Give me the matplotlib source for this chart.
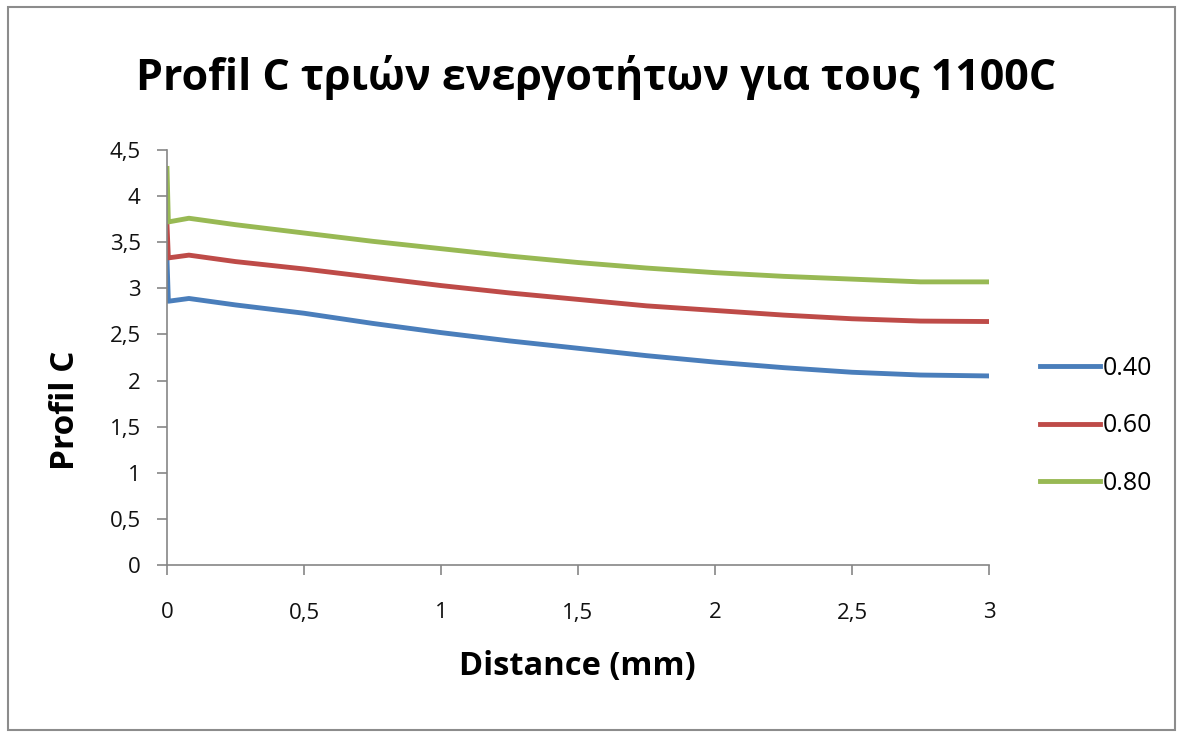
import matplotlib
matplotlib.use("Agg")
import matplotlib.pyplot as plt
from matplotlib.patches import Rectangle

# ---- data ----
distance = [0.0, 0.005, 0.08, 0.25, 0.5, 0.75, 1.0, 1.25, 1.5, 1.75, 2.0, 2.25, 2.5, 2.75, 3.0]
c_040 = [3.31, 2.86, 2.89, 2.82, 2.73, 2.62, 2.52, 2.43, 2.35, 2.27, 2.20, 2.14, 2.09, 2.06, 2.05]
c_060 = [3.69, 3.33, 3.36, 3.29, 3.21, 3.12, 3.03, 2.95, 2.88, 2.81, 2.76, 2.71, 2.67, 2.645, 2.64]
c_080 = [4.30, 3.72, 3.76, 3.69, 3.60, 3.51, 3.43, 3.35, 3.28, 3.22, 3.17, 3.13, 3.10, 3.07, 3.07]
series_labels = ["0.40", "0.60", "0.80"]
x_ticks = [0, 0.5, 1, 1.5, 2, 2.5, 3]
x_ticklabels = ["0", "0,5", "1", "1,5", "2", "2,5", "3"]
y_ticks = [0, 0.5, 1, 1.5, 2, 2.5, 3, 3.5, 4, 4.5]
y_ticklabels = ["0", "0,5", "1", "1,5", "2", "2,5", "3", "3,5", "4", "4,5"]
title = "Profil C τριών ενεργοτήτων για τους 1100C"
xlabel = "Distance (mm)"
ylabel = "Profil C"

colors = ["#4A7EBB", "#BE4B48", "#98B954"]

plt.rcParams['font.family'] = ['Open Sans', 'DejaVu Sans']

W, H = 1183, 734
fig = plt.figure(figsize=(W / 100, H / 100), dpi=100)
fig.patch.set_facecolor("white")

# outer frame
fig.add_artist(Rectangle((8 / W, 4 / H), (1175 - 8) / W, (727 - 4) / H,
                         transform=fig.transFigure, fill=False,
                         edgecolor="#8c8c8c", linewidth=1.5))

ax = fig.add_axes([167 / W, 1 - 565 / H, (989 - 167) / W, (565 - 150) / H])
for y, lab, col in zip([c_040, c_060, c_080], series_labels, colors):
    ax.plot(distance, y, color=col, lw=3.5, label=lab, solid_joinstyle="round")

ax.set_xlim(0, 3)
ax.set_ylim(0, 4.5)
ax.set_xticks(x_ticks)
ax.set_xticklabels(x_ticklabels)
ax.set_yticks(y_ticks)
ax.set_yticklabels(y_ticklabels)
for s in ["top", "right"]:
    ax.spines[s].set_visible(False)
for s in ["left", "bottom"]:
    ax.spines[s].set_color("#868686")
    ax.spines[s].set_linewidth(1.2)
ax.tick_params(axis="both", direction="out", length=7, width=1.2, color="#868686",
               labelsize=16, labelcolor="#111111")
ax.tick_params(axis="x", pad=20)
ax.tick_params(axis="y", pad=12)

fig.text(577 / W, 1 - 667 / H, xlabel, fontsize=23.5, fontweight="bold",
         ha="center", va="center")
fig.text(66 / W, 1 - 410 / H, ylabel, fontsize=24, fontweight="bold",
         ha="center", va="center", rotation=90)

fig.text(596 / W, 1 - 78 / H, title, fontsize=31, fontweight="bold",
         ha="center", va="center")

leg = ax.legend(loc="center left", bbox_to_anchor=(1040 / W, 1 - 426 / H),
                bbox_transform=fig.transFigure, frameon=False, fontsize=18,
                handlelength=2.4, handletextpad=0.1, labelspacing=1.3,
                borderpad=0, borderaxespad=0)

fig.savefig("out.png", dpi=100, facecolor="white")
